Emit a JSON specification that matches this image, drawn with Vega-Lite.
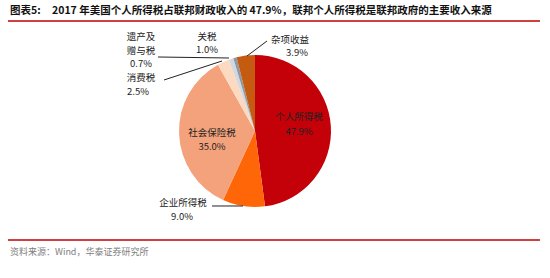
{
  "$schema": "https://vega.github.io/schema/vega-lite/v6.json",
  "width": 550,
  "height": 278,
  "autosize": {"type": "fit", "contains": "padding"},
  "padding": 0,
  "background": "white",
  "config": {"view": {"stroke": null}},
  "datasets": {
    "slices": [
      {"name": "个人所得税", "value": 47.9, "idx": 1},
      {"name": "企业所得税", "value": 9.0, "idx": 2},
      {"name": "社会保险税", "value": 35.0, "idx": 3},
      {"name": "消费税", "value": 2.5, "idx": 4},
      {"name": "关税", "value": 1.0, "idx": 5},
      {"name": "遗产及赠与税", "value": 0.7, "idx": 6},
      {"name": "杂项收益", "value": 3.9, "idx": 7}
    ],
    "labels": [
      {"text": "遗产及", "lx": -1.5, "ly": 1.2368},
      {"text": "赠与税", "lx": -1.5, "ly": 1.0526},
      {"text": "0.7%", "lx": -1.5, "ly": 0.8816},
      {"text": "关税", "lx": -0.6316, "ly": 1.2368},
      {"text": "1.0%", "lx": -0.6316, "ly": 1.0658},
      {"text": "杂项收益", "lx": 0.4605, "ly": 1.1974},
      {"text": "3.9%", "lx": 0.5526, "ly": 1.0263},
      {"text": "消费税", "lx": -1.5, "ly": 0.6974},
      {"text": "2.5%", "lx": -1.5395, "ly": 0.5132},
      {"text": "个人所得税", "lx": 0.5789, "ly": 0.1842},
      {"text": "47.9%", "lx": 0.5789, "ly": -0.0132},
      {"text": "社会保险税", "lx": -0.5658, "ly": -0.0263},
      {"text": "35.0%", "lx": -0.5658, "ly": -0.2105},
      {"text": "企业所得税", "lx": -0.9474, "ly": -0.9474},
      {"text": "9.0%", "lx": -0.9605, "ly": -1.1316}
    ],
    "leaders": [
      {"x": -1.2763, "y": 0.9737, "x2": -0.3421, "y2": 0.9605},
      {"x": -1.1974, "y": 0.6711, "x2": -0.4342, "y2": 0.9211},
      {"x": 0.1579, "y": 1.1842, "x2": -0.1053, "y2": 0.9868},
      {"x": -0.5658, "y": -0.9868, "x2": -0.1579, "y2": -0.9868}
    ],
    "redlines": [
      {"x": -3.25, "x2": 3.75, "y": 1.4474},
      {"x": -3.25, "x2": 3.75, "y": -1.4342}
    ],
    "texts": [
      {"text": "图表5:", "lx": -3.2237, "ly": 1.5789},
      {"text": "2017 年美国个人所得税占联邦财政收入的 47.9%，联邦个人所得税是联邦政府的主要收入来源", "lx": -2.6711, "ly": 1.5789}
    ],
    "source": [
      {"text": "资料来源：Wind，华泰证券研究所", "lx": -3.2237, "ly": -1.5921}
    ]
  },
  "layer": [
    {
      "data": {"name": "slices"},
      "mark": {"type": "arc", "outerRadius": 76},
      "encoding": {
        "x": {"datum": 0, "type": "quantitative", "scale": {"domain": [-3.3553, 3.8816], "nice": false, "zero": false}, "axis": null},
        "y": {"datum": 0, "type": "quantitative", "scale": {"domain": [-1.9342, 1.7237], "nice": false, "zero": false}, "axis": null},
        "theta": {"field": "value", "type": "quantitative", "stack": true},
        "order": {"field": "idx", "type": "quantitative"},
        "color": {
          "field": "name", "type": "nominal", "legend": null,
          "scale": {
            "domain": ["个人所得税", "企业所得税", "社会保险税", "消费税", "关税", "遗产及赠与税", "杂项收益"],
            "range": ["#C40008", "#FF6608", "#F4A27C", "#FCDAC2", "#D3D8DE", "#8E99A4", "#C55A11"]
          }
        }
      }
    },
    {
      "data": {"name": "leaders"},
      "mark": {"type": "rule", "color": "#222222", "strokeWidth": 1},
      "encoding": {
        "x": {"field": "x", "type": "quantitative"},
        "y": {"field": "y", "type": "quantitative"},
        "x2": {"field": "x2"},
        "y2": {"field": "y2"}
      }
    },
    {
      "data": {"name": "labels"},
      "mark": {"type": "text", "font": "Noto Sans CJK SC", "fontSize": 9.5, "letterSpacing": 0.8, "color": "#222222", "align": "center", "baseline": "middle"},
      "encoding": {
        "x": {"field": "lx", "type": "quantitative"},
        "y": {"field": "ly", "type": "quantitative"},
        "text": {"field": "text"}
      }
    },
    {
      "data": {"name": "redlines"},
      "mark": {"type": "rule", "color": "#C00000", "strokeWidth": 1.6},
      "encoding": {
        "x": {"field": "x", "type": "quantitative"},
        "x2": {"field": "x2"},
        "y": {"field": "y", "type": "quantitative"}
      }
    },
    {
      "data": {"name": "texts"},
      "mark": {"type": "text", "font": "Noto Sans CJK SC", "fontSize": 10.5, "fontWeight": "bold", "color": "#111111", "align": "left", "baseline": "middle"},
      "encoding": {
        "x": {"field": "lx", "type": "quantitative"},
        "y": {"field": "ly", "type": "quantitative"},
        "text": {"field": "text"}
      }
    },
    {
      "data": {"name": "source"},
      "mark": {"type": "text", "font": "Noto Sans CJK SC", "fontSize": 9, "color": "#808080", "align": "left", "baseline": "middle"},
      "encoding": {
        "x": {"field": "lx", "type": "quantitative"},
        "y": {"field": "ly", "type": "quantitative"},
        "text": {"field": "text"}
      }
    }
  ]
}
